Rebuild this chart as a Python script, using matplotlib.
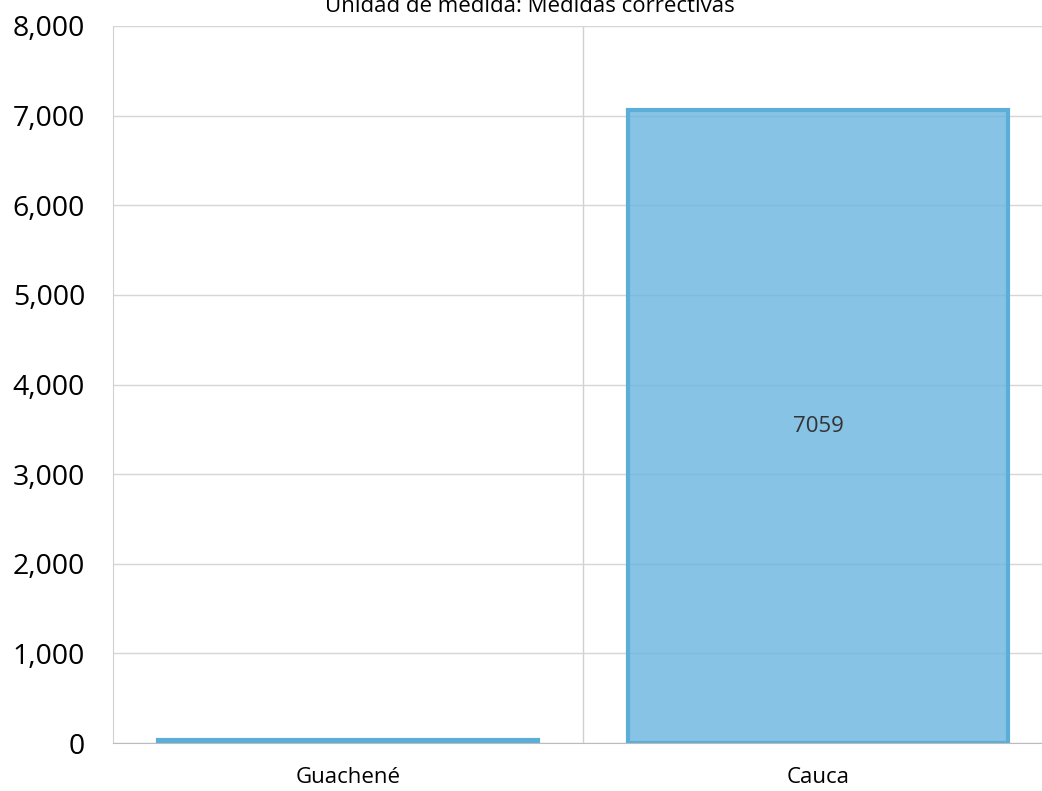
import matplotlib.pyplot as plt
from matplotlib.ticker import FuncFormatter, MultipleLocator

categories = ['Guachené', 'Cauca']
values = [30, 7059]
labels = ['', '7059']
title = 'Unidad de medida: Medidas correctivas'

plt.rcParams['font.family'] = ['Open Sans', 'DejaVu Sans']

fig = plt.figure(figsize=(10.42, 7.91), dpi=100)
# plot area runs past the right edge of the image, as in the reference
ax = fig.add_axes([113 / 1042, 48 / 791, 940 / 1042, 717 / 791])

x = range(len(categories))
bars = ax.bar(x, values, width=0.81, color=(108 / 255, 182 / 255, 222 / 255, 0.82),
              edgecolor='#5aaed8', linewidth=3, zorder=2)
for b, lab in zip(bars, labels):
    if lab:
        ax.text(b.get_x() + b.get_width() / 2, b.get_height() / 2, lab,
                ha='center', va='center', fontsize=16, color='#333333', zorder=3)

ax.set_xlim(-0.5, 1.5)
ax.set_ylim(0, 8000)
ax.yaxis.set_major_locator(MultipleLocator(1000))
ax.yaxis.set_major_formatter(FuncFormatter(lambda v, p: f'{int(v):,}'))
ax.set_xticks(list(x))
ax.set_xticklabels(categories, fontsize=16)
ax.tick_params(axis='y', labelsize=20.5, length=0, pad=20)
ax.tick_params(axis='x', length=0, pad=17)

ax.grid(axis='y', color='#d6d6d6', linewidth=1, zorder=1)
ax.grid(False, axis='x')
ax.axvline(0.5, color='#d0d0d0', linewidth=1, zorder=1)
for s in ['top', 'right']:
    ax.spines[s].set_visible(False)
ax.spines['left'].set_color('#d0d0d0')
ax.spines['left'].set_linestyle((0, (1, 1)))
ax.spines['bottom'].set_color('#bcbcbc')

fig.text(530 / 1042, 1 - 6 / 791, title, ha='center', va='center', fontsize=16)

fig.savefig('out.png', dpi=100)
